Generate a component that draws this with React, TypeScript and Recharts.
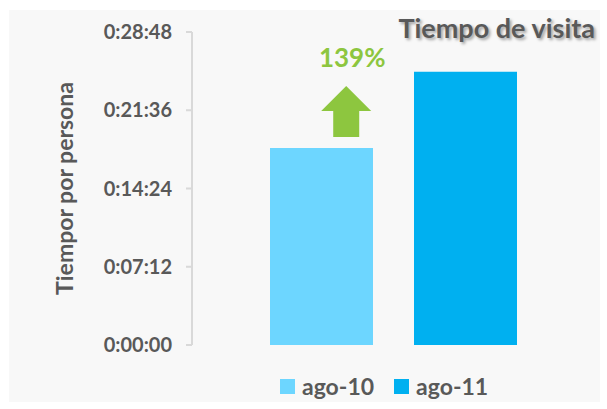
import { Bar, BarChart, LabelList, XAxis, YAxis } from "recharts";

const seriesNames = ["ago-10", "ago-11"];
const seriesColors = ["#6dd6ff", "#00b0f0"];
// tiempo medio por persona, en segundos
const visitSeconds = [1087, 1508];
const yTicks = [0, 432, 864, 1296, 1728];

const FONT = "Lato, 'Open Sans', sans-serif";
const GREY = "#595959";
const GREEN = "#8dc63f";

const chartData = [
	{
		name: "",
		[seriesNames[0]]: visitSeconds[0],
		[seriesNames[1]]: visitSeconds[1],
	},
];

const growth = Math.round((visitSeconds[1] / visitSeconds[0]) * 100);

function fmtTime(sec: number) {
	const h = Math.floor(sec / 3600);
	const m = Math.floor((sec % 3600) / 60);
	const s = Math.round(sec % 60);
	return `${h}:${String(m).padStart(2, "0")}:${String(s).padStart(2, "0")}`;
}

function GrowthArrow(props: any) {
	const { x, y, width } = props;
	const cx = x + width * 0.74;
	const bottom = y - 11;
	const shaftW = 13;
	const headW = 25;
	const pts = [
		[cx - shaftW, bottom],
		[cx - shaftW, bottom - 26],
		[cx - headW, bottom - 26],
		[cx, bottom - 51],
		[cx + headW, bottom - 26],
		[cx + shaftW, bottom - 26],
		[cx + shaftW, bottom],
	]
		.map((p) => p.join(","))
		.join(" ");
	return (
		<g>
			<polygon points={pts} fill={GREEN} />
			<text
				x={cx + 6}
				y={bottom - 70}
				textAnchor="middle"
				fill={GREEN}
				fontFamily={FONT}
				fontWeight={700}
				fontSize={26}
			>
				{growth}%
			</text>
		</g>
	);
}

export default function App() {
	return (
		<div style={{ position: "absolute", left: 0, top: 0, width: 607, height: 409, background: "#ffffff" }}>
			<div style={{ position: "absolute", left: 9, top: 10, width: 591, height: 392, background: "#f8f8f8" }} />
			<div
				style={{
					position: "absolute",
					right: 12,
					top: 11,
					fontFamily: FONT,
					fontWeight: 700,
					fontSize: 27,
					color: GREY,
					textShadow: "2px 2px 3px rgba(0,0,0,0.35)",
				}}
			>
				Tiempo de visita
			</div>
			<div style={{ position: "absolute", left: 0, top: 0 }}>
				<BarChart
					width={607}
					height={409}
					data={chartData}
					margin={{ top: 32, right: 12, left: 92, bottom: 64 }}
					barSize={103}
					barGap={41}
					accessibilityLayer={false}
				>
					<XAxis dataKey="name" hide />
					<YAxis
						width={100}
						domain={[0, 1728]}
						ticks={yTicks}
						tickFormatter={fmtTime}
						tickSize={6}
						tickMargin={14}
						stroke="#d9d9d9"
						strokeWidth={2}
						tick={{ fill: GREY, fontFamily: FONT, fontWeight: 700, fontSize: 20 }}
						label={{
							value: "Tiempor por persona",
							angle: -90,
							position: "insideLeft",
							offset: 0,
							dx: -27,
							style: { textAnchor: "middle", fill: GREY, fontFamily: FONT, fontWeight: 700, fontSize: 23 },
						}}
					/>
					<Bar dataKey={seriesNames[0]} fill={seriesColors[0]} isAnimationActive={false}>
						<LabelList dataKey={seriesNames[0]} content={GrowthArrow} />
					</Bar>
					<Bar dataKey={seriesNames[1]} fill={seriesColors[1]} isAnimationActive={false} />
				</BarChart>
			</div>
			<div
				style={{
					position: "absolute",
					left: 280,
					top: 372,
					display: "flex",
					gap: 20,
					fontFamily: FONT,
					fontWeight: 700,
					fontSize: 23,
					color: GREY,
				}}
			>
				{seriesNames.map((n, i) => (
					<div key={n} style={{ display: "flex", alignItems: "center", gap: 7 }}>
						<span style={{ width: 15, height: 15, background: seriesColors[i], display: "inline-block" }} />
						<span>{n}</span>
					</div>
				))}
			</div>
		</div>
	);
}
